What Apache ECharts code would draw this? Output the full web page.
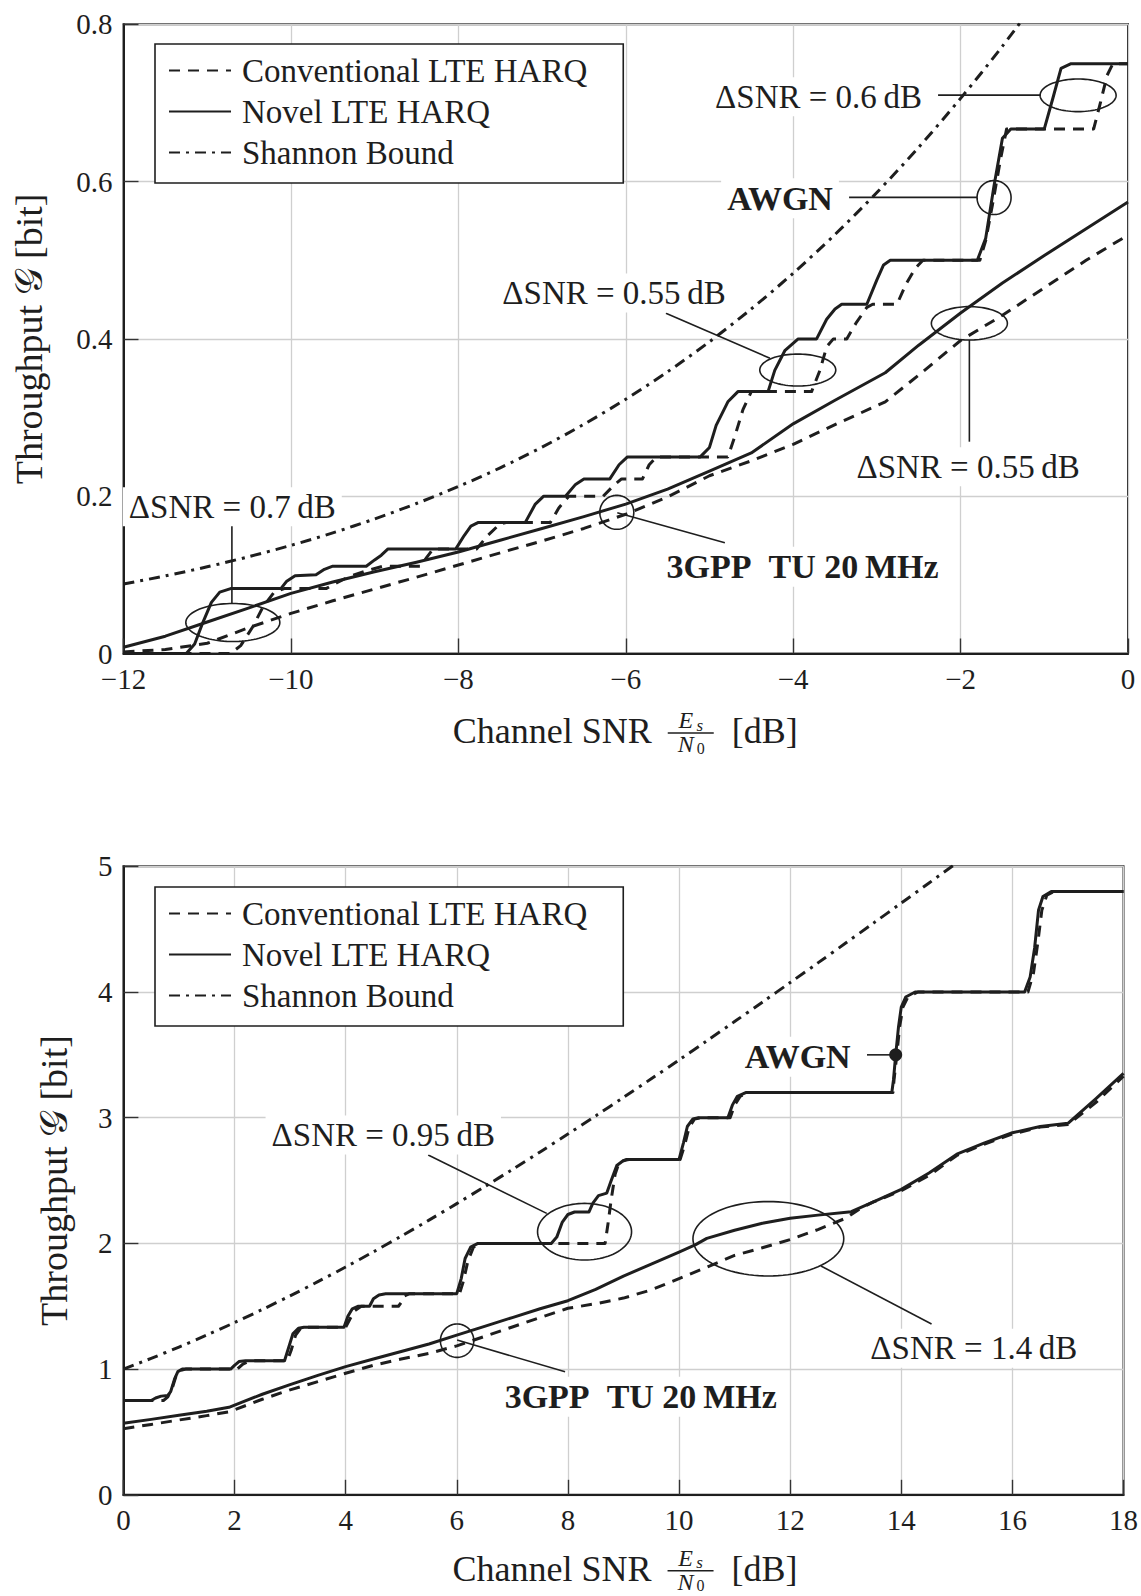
<!DOCTYPE html>
<html>
<head>
<meta charset="utf-8">
<script src="https://cdn.jsdelivr.net/npm/echarts@6/dist/echarts.min.js"></script>
<style>
  html, body { margin: 0; padding: 0; background: #fff; }
  #chart { width: 1141px; height: 1596px; }
</style>
</head>
<body>
<div id="chart"></div>
<script>
// ---------- Upper panel: Es/N0 from -12 to 0 dB ----------
const topXTicks = [-12, -10, -8, -6, -4, -2, 0];
const topYTicks = [0, 0.2, 0.4, 0.6, 0.8];

const topConvAwgn = [[-12,0],[-10.72,0],[-10.6,0.01],[-10.45,0.035],[-10.33,0.06],[-10.2,0.078],[-10.08,0.0825],
  [-9.58,0.0825],[-9.45,0.09],[-9.3,0.098],[-9.1,0.105],[-8.9,0.111],[-8.45,0.111],[-8.38,0.122],[-8.3,0.133],
  [-7.78,0.133],[-7.65,0.15],[-7.5,0.165],[-7.42,0.1667],[-6.9,0.1667],[-6.8,0.185],[-6.68,0.2],[-6.27,0.2],
  [-6.15,0.213],[-6.05,0.222],[-5.8,0.222],[-5.72,0.24],[-5.63,0.25],[-4.78,0.25],[-4.7,0.275],[-4.6,0.31],
  [-4.5,0.333],[-3.78,0.333],[-3.68,0.36],[-3.6,0.39],[-3.52,0.4],[-3.36,0.4],[-3.25,0.42],[-3.12,0.44],
  [-3.05,0.444],[-2.76,0.444],[-2.65,0.47],[-2.54,0.49],[-2.45,0.5],[-1.77,0.5],[-1.7,0.525],[-1.62,0.57],
  [-1.52,0.63],[-1.45,0.667],[-0.41,0.667],[-0.33,0.7],[-0.25,0.735],[-0.18,0.75],[0,0.75]];

const topNovelAwgn = [[-12,0],[-11.25,0],[-11.15,0.012],[-11.05,0.04],[-10.95,0.065],[-10.85,0.078],[-10.72,0.0825],
  [-10.12,0.0825],[-10.05,0.092],[-9.95,0.099],[-9.7,0.1],[-9.6,0.107],[-9.5,0.111],[-9.1,0.111],[-9.0,0.119],
  [-8.92,0.125],[-8.84,0.133],[-8.03,0.133],[-7.93,0.15],[-7.85,0.162],[-7.76,0.1667],[-7.2,0.1667],[-7.08,0.19],
  [-6.98,0.2],[-6.72,0.2],[-6.6,0.215],[-6.5,0.222],[-6.19,0.222],[-6.08,0.24],[-5.98,0.25],[-5.11,0.25],
  [-5.0,0.262],[-4.92,0.29],[-4.78,0.32],[-4.66,0.333],[-4.3,0.333],[-4.22,0.36],[-4.1,0.385],[-3.94,0.4],
  [-3.72,0.4],[-3.6,0.425],[-3.5,0.438],[-3.42,0.444],[-3.12,0.444],[-3.0,0.475],[-2.92,0.494],[-2.84,0.5],
  [-1.8,0.5],[-1.7,0.528],[-1.6,0.595],[-1.5,0.655],[-1.4,0.667],[-1.0,0.667],[-0.9,0.705],[-0.8,0.744],
  [-0.68,0.75],[0,0.75]];

const topConvTu = [[-12,0.002],[-11.5,0.005],[-11,0.013],[-10.5,0.033],[-10,0.051],[-9.5,0.067],[-9,0.082],
  [-8.5,0.097],[-8,0.1125],[-7.5,0.128],[-7,0.143],[-6.5,0.159],[-6,0.177],[-5.5,0.199],[-5,0.226],[-4.5,0.245],
  [-4,0.266],[-3.5,0.291],[-2.9,0.32],[-2.5,0.354],[-2,0.398],[-1.5,0.43],[-1,0.465],[-0.5,0.5],[0,0.532]];

const topNovelTu = [[-12,0.008],[-11.5,0.022],[-11,0.04],[-10.5,0.058],[-10,0.0765],[-9.5,0.091],[-9,0.104],
  [-8.5,0.116],[-8,0.129],[-7.5,0.144],[-7,0.159],[-6.5,0.174],[-6,0.19],[-5.5,0.209],[-5,0.232],[-4.5,0.255],
  [-4,0.292],[-3.5,0.322],[-2.9,0.357],[-2.5,0.392],[-2,0.433],[-1.5,0.471],[-1,0.506],[-0.5,0.54],[0,0.574]];

const topShannon = [[-12,0.0883],[-11.5,0.0987],[-11,0.1102],[-10.5,0.1232],[-10,0.1375],[-9.5,0.1534],
  [-9,0.1711],[-8.5,0.1907],[-8,0.2123],[-7.5,0.2361],[-7,0.2624],[-6.5,0.2915],[-6,0.3233],[-5.5,0.3582],
  [-5,0.3964],[-4.5,0.4381],[-4,0.4835],[-3.5,0.5328],[-3,0.5861],[-2.5,0.6437],[-2,0.7058],[-1.5,0.7722],
  [-1,0.8434]];

// ---------- Lower panel: Es/N0 from 0 to 18 dB ----------
const botXTicks = [0, 2, 4, 6, 8, 10, 12, 14, 16, 18];
const botYTicks = [0, 1, 2, 3, 4, 5];

const botConvAwgn = [[0,0.75],[0.72,0.75],[0.8,0.78],[0.88,0.85],[0.95,0.95],[1.03,0.99],[1.12,1],[2.05,1],
  [2.15,1.04],[2.27,1.065],[2.35,1.067],[2.95,1.067],[3.02,1.15],[3.1,1.27],[3.2,1.33],[3.3,1.333],[4.0,1.333],
  [4.08,1.4],[4.15,1.46],[4.28,1.5],[4.95,1.5],[5.0,1.53],[5.05,1.58],[5.15,1.6],[6.05,1.6],[6.12,1.7],
  [6.2,1.86],[6.3,1.97],[6.42,2],[8.67,2],[8.72,2.15],[8.78,2.35],[8.85,2.55],[8.92,2.64],[9.05,2.667],
  [10.02,2.667],[10.1,2.78],[10.18,2.92],[10.28,2.99],[10.4,3],[10.92,3],[11.0,3.1],[11.1,3.17],[11.25,3.2],
  [13.85,3.2],[13.87,3.3],[13.92,3.5],[13.97,3.72],[14.03,3.88],[14.12,3.96],[14.3,4],[16.28,4],[16.38,4.15],
  [16.46,4.4],[16.53,4.65],[16.62,4.77],[16.75,4.8],[18,4.8]];

const botNovelAwgn = [[0,0.75],[0.5,0.75],[0.58,0.77],[0.68,0.785],[0.8,0.79],[0.85,0.82],[0.92,0.92],[0.98,0.98],
  [1.06,1],[1.93,1],[2.0,1.03],[2.08,1.06],[2.2,1.067],[2.9,1.067],[2.98,1.18],[3.05,1.28],[3.15,1.325],
  [3.25,1.333],[3.97,1.333],[4.04,1.42],[4.12,1.48],[4.22,1.5],[4.43,1.5],[4.5,1.56],[4.6,1.59],[4.72,1.6],
  [6.0,1.6],[6.08,1.72],[6.15,1.88],[6.25,1.97],[6.38,2],[7.7,2],[7.8,2.05],[7.9,2.17],[8.0,2.23],[8.12,2.25],
  [8.38,2.25],[8.45,2.32],[8.55,2.38],[8.7,2.4],[8.78,2.5],[8.88,2.62],[9.0,2.66],[9.1,2.667],[10.0,2.667],
  [10.08,2.8],[10.15,2.93],[10.25,2.99],[10.35,3],[10.88,3],[10.96,3.1],[11.05,3.17],[11.2,3.2],[13.83,3.2],
  [13.86,3.3],[13.9,3.5],[13.95,3.72],[14.0,3.88],[14.08,3.96],[14.25,4],[16.22,4],[16.32,4.12],[16.4,4.35],
  [16.47,4.65],[16.55,4.76],[16.7,4.8],[18,4.8]];

const botConvTu = [[0,0.525],[0.5,0.56],[1,0.595],[1.5,0.63],[1.91,0.661],[2.5,0.76],[3,0.835],[3.5,0.9],
  [4,0.967],[4.5,1.03],[5,1.08],[5.5,1.125],[6,1.185],[6.5,1.26],[7,1.335],[7.5,1.41],[8,1.484],[8.5,1.52],
  [9,1.565],[9.5,1.63],[10,1.72],[10.5,1.81],[11,1.905],[11.5,1.965],[12,2.03],[12.5,2.11],[13,2.2],
  [13.27,2.28],[13.5,2.33],[14,2.42],[14.5,2.54],[15,2.7],[15.5,2.79],[16,2.87],[16.5,2.925],[17,2.945],
  [17.5,3.12],[18,3.33]];

const botNovelTu = [[0,0.569],[0.5,0.6],[1,0.632],[1.5,0.665],[1.9,0.696],[2.5,0.8],[3,0.876],[3.5,0.95],
  [4,1.02],[4.5,1.08],[5,1.14],[5.5,1.2],[6,1.27],[6.5,1.34],[7,1.41],[7.5,1.48],[8,1.544],[8.5,1.635],
  [9,1.74],[9.5,1.835],[10,1.93],[10.3,1.99],[10.5,2.04],[11,2.105],[11.5,2.16],[12,2.2],[12.5,2.225],
  [13.1,2.252],[13.5,2.33],[14,2.43],[14.5,2.56],[15,2.71],[15.5,2.8],[16,2.88],[16.5,2.93],[17,2.955],
  [17.5,3.15],[18,3.353]];

const botShannon = [[0,1],[0.5,1.0855],[1,1.1756],[1.5,1.2706],[2,1.3701],[2.5,1.4742],[3,1.5827],[3.5,1.6955],
  [4,1.8123],[4.5,1.933],[5,2.0575],[5.5,2.1853],[6,2.3165],[6.5,2.4508],[7,2.588],[7.5,2.7277],[8,2.8699],
  [8.5,3.0144],[9,3.161],[9.5,3.3094],[10,3.4594],[10.5,3.6114],[11,3.7646],[11.5,3.9191],[12,4.0748],
  [12.5,4.2315],[13,4.3891],[13.5,4.5479],[14,4.7073],[14.5,4.8673],[15,5.028]];

const legendNames = ['Conventional LTE HARQ', 'Novel LTE HARQ', 'Shannon Bound'];

// ---------- styling ----------
const FONT = '"Liberation Serif", "Times New Roman", serif';
const INK = '#1e1e1e';
const DASHED = [11, 8];
const DASHDOT = [11, 6, 3, 6];
const GRIDS = [
  { left: 123.5, top: 24.3, width: 1004.5, height: 629.2 },
  { left: 123.4, top: 866.3, width: 1004.3, height: 628.5 }
];

function curve(name, data, g, dash, smooth) {
  return {
    type: 'line', name, data, xAxisIndex: g, yAxisIndex: g,
    symbol: 'none', smooth: smooth || false, clip: true, animation: false,
    itemStyle: { color: INK },
    lineStyle: { color: INK, width: 3, type: dash, cap: 'butt', join: 'round' },
    emphasis: { disabled: true }
  };
}

function xAxis(g, ticks) {
  return {
    type: 'value', gridIndex: g, min: ticks[0], max: ticks[ticks.length - 1],
    interval: ticks[1] - ticks[0],
    axisLine: { show: true, onZero: false, lineStyle: { color: INK, width: 2 } },
    axisTick: { show: true, inside: true, length: 15, lineStyle: { color: '#333', width: 1.4 } },
    axisLabel: { margin: 13, color: INK, fontFamily: FONT, fontSize: 29, lineHeight: 24,
      formatter: v => String(v).replace('-', '\u2212') },
    splitLine: { show: true, lineStyle: { color: '#cfcfcf', width: 1.3 } }
  };
}

function yAxis(g, ticks) {
  return {
    type: 'value', gridIndex: g, min: ticks[0], max: ticks[ticks.length - 1],
    interval: +(ticks[1] - ticks[0]).toFixed(3),
    axisLine: { show: true, onZero: false, lineStyle: { color: INK, width: 2 } },
    axisTick: { show: true, inside: true, length: 15, lineStyle: { color: '#333', width: 1.4 } },
    axisLabel: { margin: 11, color: INK, fontFamily: FONT, fontSize: 29, lineHeight: 22,
      formatter: v => String(+v.toFixed(2)) },
    splitLine: { show: true, lineStyle: { color: '#cfcfcf', width: 1.3 } }
  };
}

function legend(top) {
  return {
    data: legendNames, orient: 'vertical', left: 155, top,
    padding: [6, 36, 10, 13], itemGap: 0, itemWidth: 62, itemHeight: 20,
    backgroundColor: '#fff', borderColor: INK, borderWidth: 1.6, borderRadius: 0,
    selectedMode: false,
    itemStyle: { opacity: 0, borderWidth: 0 },
    textStyle: { fontFamily: FONT, fontSize: 33, color: INK, lineHeight: 41, padding: [0, 0, 0, 6] }
  };
}

const chart = echarts.init(document.getElementById('chart'), null, { renderer: 'svg' });

chart.setOption({
  animation: false,
  backgroundColor: '#fff',
  grid: GRIDS.map(r => Object.assign({ show: true, borderColor: INK, borderWidth: 2, containLabel: false }, r)),
  xAxis: [xAxis(0, topXTicks), xAxis(1, botXTicks)],
  yAxis: [yAxis(0, topYTicks), yAxis(1, botYTicks)],
  legend: [legend(44), legend(887)],
  series: [
    curve(legendNames[0], topConvAwgn, 0, DASHED),
    curve(legendNames[0], topConvTu, 0, DASHED),
    curve(legendNames[1], topNovelAwgn, 0, 'solid'),
    curve(legendNames[1], topNovelTu, 0, 'solid'),
    curve(legendNames[2], topShannon, 0, DASHDOT, 0.3),
    curve(legendNames[0], botConvAwgn, 1, DASHED),
    curve(legendNames[0], botConvTu, 1, DASHED),
    curve(legendNames[1], botNovelAwgn, 1, 'solid'),
    curve(legendNames[1], botNovelTu, 1, 'solid'),
    curve(legendNames[2], botShannon, 1, DASHDOT, 0.3)
  ]
});

// ---------- callouts, placed in data coordinates ----------
const notes = [
  // upper panel
  { g: 0, kind: 'line', from: [-10.705, 0.1745], to: [-10.705, 0.0636] },
  { g: 0, kind: 'ellipse', at: [-10.694, 0.0394], rx: 47, ry: 19 },
  { g: 0, kind: 'text', at: [-10.70, 0.1866], text: '\u0394SNR = 0.7\u2009dB' },
  { g: 0, kind: 'line', from: [-5.52, 0.4326], to: [-4.277, 0.3753] },
  { g: 0, kind: 'ellipse', at: [-3.945, 0.3604], rx: 38, ry: 16 },
  { g: 0, kind: 'text', at: [-6.14, 0.4584], text: '\u0394SNR = 0.55\u2009dB' },
  { g: 0, kind: 'line', from: [-1.895, 0.3986], to: [-1.895, 0.2693] },
  { g: 0, kind: 'ellipse', at: [-1.895, 0.4198], rx: 38, ry: 16.7 },
  { g: 0, kind: 'text', at: [-1.91, 0.2375], text: '\u0394SNR = 0.55\u2009dB' },
  { g: 0, kind: 'line', from: [-2.269, 0.710], to: [-1.046, 0.710] },
  { g: 0, kind: 'ellipse', at: [-0.596, 0.7097], rx: 38, ry: 16.3 },
  { g: 0, kind: 'text', at: [-3.697, 0.708], text: '\u0394SNR = 0.6\u2009dB' },
  { g: 0, kind: 'line', from: [-3.332, 0.580], to: [-1.803, 0.580] },
  { g: 0, kind: 'ellipse', at: [-1.600, 0.5797], rx: 17, ry: 17 },
  { g: 0, kind: 'text', at: [-4.157, 0.5788], text: 'AWGN', bold: true },
  { g: 0, kind: 'line', from: [-6.101, 0.179], to: [-4.816, 0.1409] },
  { g: 0, kind: 'ellipse', at: [-6.107, 0.1795], rx: 17, ry: 17 },
  { g: 0, kind: 'text', at: [-3.888, 0.1104], text: '3GPP\u2002TU 20\u2009MHz', bold: true },
  // lower panel
  { g: 1, kind: 'line', from: [5.486, 2.703], to: [7.619, 2.239] },
  { g: 1, kind: 'ellipse', at: [8.30, 2.093], rx: 47, ry: 28.3 },
  { g: 1, kind: 'text', at: [4.677, 2.862], text: '\u0394SNR = 0.95\u2009dB' },
  { g: 1, kind: 'line', from: [13.383, 3.5], to: [13.9, 3.5] },
  { g: 1, kind: 'dot', at: [13.9, 3.5], r: 6.5 },
  { g: 1, kind: 'text', at: [12.137, 3.485], text: 'AWGN', bold: true },
  { g: 1, kind: 'line', from: [12.555, 1.820], to: [14.545, 1.359] },
  { g: 1, kind: 'ellipse', at: [11.608, 2.037], rx: 75.4, ry: 37.2 },
  { g: 1, kind: 'text', at: [15.306, 1.165], text: '\u0394SNR = 1.4\u2009dB' },
  { g: 1, kind: 'line', from: [6.006, 1.231], to: [7.949, 0.979] },
  { g: 1, kind: 'ellipse', at: [6.006, 1.226], rx: 16.7, ry: 16.7 },
  { g: 1, kind: 'text', at: [9.311, 0.780], text: '3GPP\u2002TU 20\u2009MHz', bold: true }
];

const px = (g, p) => chart.convertToPixel({ gridIndex: g }, p);
const thin = { stroke: INK, lineWidth: 1.6, fill: 'none' };

const graphics = notes.map(n => {
  if (n.kind === 'line') {
    const a = px(n.g, n.from), b = px(n.g, n.to);
    return { type: 'line', z: 40, shape: { x1: a[0], y1: a[1], x2: b[0], y2: b[1] }, style: thin };
  }
  if (n.kind === 'ellipse') {
    const c = px(n.g, n.at), pts = [];
    for (let k = 0; k < 96; k++) {
      const t = k / 96 * Math.PI * 2;
      pts.push([c[0] + n.rx * Math.cos(t), c[1] + n.ry * Math.sin(t)]);
    }
    return { type: 'polygon', z: 40, shape: { points: pts }, style: thin };
  }
  if (n.kind === 'dot') {
    const c = px(n.g, n.at);
    return { type: 'circle', z: 45, shape: { cx: c[0], cy: c[1], r: n.r }, style: { fill: INK } };
  }
  const c = px(n.g, n.at);
  return {
    type: 'text', z: 50, x: c[0], y: c[1],
    style: {
      text: n.text, fill: INK,
      font: (n.bold ? 'bold 34px ' : '33px ') + FONT,
      align: 'center', verticalAlign: 'middle',
      backgroundColor: '#fff', padding: [3, 6]
    }
  };
});

// ---------- axis titles ----------
function axisTitles(r, yTitleX, gap) {
  const cx = r.left + r.width / 2;
  const by = r.top + r.height + gap;
  const cy = r.top + r.height / 2;
  const t = (text, x, y, font, align) => ({
    type: 'text', z: 50, x, y,
    style: { text, fill: INK, font, align: align || 'center', verticalAlign: 'middle' }
  });
  return [
    t('Channel SNR', cx + 26, by, '36px ' + FONT, 'right'),
    t('E', cx + 60, by - 11, 'italic 24px ' + FONT),
    t('s', cx + 74, by - 6, 'italic 17px ' + FONT),
    { type: 'line', z: 50, shape: { x1: cx + 42, y1: by + 2, x2: cx + 88, y2: by + 2 },
      style: { stroke: INK, lineWidth: 1.5 } },
    t('N', cx + 60, by + 13, 'italic 24px ' + FONT),
    t('0', cx + 75, by + 17, '16px ' + FONT),
    t('[dB]', cx + 106, by, '36px ' + FONT, 'left'),
    Object.assign(t('Throughput \uD835\uDCA2 [bit]', yTitleX, cy, '38px ' + FONT), { rotation: Math.PI / 2 })
  ];
}

chart.setOption({
  graphic: graphics.concat(axisTitles(GRIDS[0], 29, 77.5), axisTitles(GRIDS[1], 54, 74))
});
</script>
</body>
</html>
